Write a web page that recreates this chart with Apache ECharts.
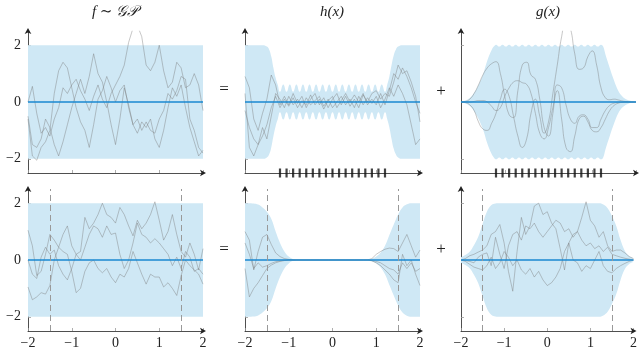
<!DOCTYPE html>
<html>
<head>
<meta charset="utf-8">
<script src="https://cdn.jsdelivr.net/npm/echarts@6/dist/echarts.min.js"></script>
<style>
html, body { margin: 0; padding: 0; background: #fff; }
#main { width: 640px; height: 352px; }
</style>
</head>
<body>
<div id="main"></div>
<script>
// x positions of the sample paths
var xs = [-2.0,-1.9,-1.8,-1.7,-1.6,-1.5,-1.4,-1.3,-1.2,-1.1,-1.0,-0.9,-0.8,-0.7,-0.6,-0.5,-0.4,-0.3,-0.2,-0.1,
          0.0,0.1,0.2,0.3,0.4,0.5,0.6,0.7,0.8,0.9,1.0,1.1,1.2,1.3,1.4,1.5,1.6,1.7,1.8,1.9,2.0];

// top row: f ~ GP, h(x), g(x)
var fTopA = [0,0.55,-0.4,-1.1,-0.9,-1.2,-0.6,-0.2,0.5,0.3,0.6,0.8,0.4,0.1,-0.3,0.2,0.6,0.1,-0.2,0.3,0.6,0.9,1.3,2.1,2.6,2.7,2.3,1.3,1.1,1.4,2.0,1.1,0.5,0.7,1.4,1.2,0.5,0.6,1.0,0.6,-0.3];
var fTopB = [-0.6,-1.9,-2.05,-1.6,-1.4,-1.0,0.3,1.1,1.4,1.2,0.5,-0.2,-0.7,-1.0,-1.6,-0.8,0.1,0.4,0.9,0.5,0.0,0.4,0.6,-0.2,-0.8,-0.6,-1.0,-0.7,-1.0,-1.1,-0.6,-0.3,0.3,0.1,0.4,0.9,0.8,-0.6,-1.0,-1.6,-1.8];
var fTopC = [-0.5,-1.5,-1.6,-1.3,-0.6,-0.9,-1.5,-1.9,-1.4,-0.8,-0.2,0.3,0.8,0.3,0.9,1.7,1.0,0.7,0.0,-0.8,-1.5,-0.6,0.5,-0.1,-0.8,-1.1,-0.7,-0.9,-0.6,-1.3,-1.6,-1.0,-0.2,0.5,0.2,0.6,-0.2,-0.9,-1.4,-1.9,-1.7];

var hTopA = [0.9,0.5,-0.6,-1.0,-0.4,0.1,0.95,0.6,-0.1,0.2,-0.1,0.3,-0.05,0.2,-0.2,0.1,0.3,-0.1,0.15,-0.2,0.1,0.3,-0.1,0.2,-0.15,0.1,-0.2,0.25,0.0,0.3,0.4,0.1,0.3,0.2,0.7,1.3,1.0,1.1,0.7,0.2,-0.7];
var hTopB = [0.3,-1.6,-1.9,-1.5,-0.9,-1.3,-0.5,0.3,0.1,-0.2,0.2,-0.1,0.1,-0.2,0.15,-0.1,0.05,0.2,-0.15,0.1,-0.2,0.0,0.2,-0.1,0.1,-0.2,0.2,-0.1,0.15,-0.05,0.2,-0.2,0.1,0.5,0.2,0.6,0.3,-0.1,-0.8,-1.5,-1.3];
var hTopC = [-0.3,-0.9,-1.3,-1.5,-1.2,-0.8,-0.2,0.2,-0.2,0.1,-0.15,0.15,-0.2,0.05,-0.1,0.25,-0.1,0.1,-0.25,0.05,0.2,-0.2,0.05,0.3,0.0,0.25,0.0,0.3,-0.1,0.1,-0.1,0.3,-0.1,0.4,1.0,0.8,1.2,0.9,0.5,0.0,-0.4];

var gTopA = [0,0.02,0.1,0.3,0.6,0.95,1.2,1.35,1.42,1.0,0.2,-0.45,-0.55,0.4,1.3,1.4,0.95,0.8,0.1,-0.9,-1.2,-0.4,0.6,0.5,-0.1,-0.6,-0.75,-0.5,-0.45,-0.6,-0.9,-0.9,-0.6,-0.3,-0.12,-0.04,-0.01,0,0,0,0];
var gTopB = [0,-0.02,-0.1,-0.3,-0.7,-0.95,-1.0,-0.75,-0.4,0.1,0.45,0.2,-0.5,-1.2,-1.6,-1.3,-0.4,0.1,-0.5,-1.1,-0.7,0.3,1.3,2.3,2.9,2.6,1.7,1.15,1.2,1.6,1.8,1.3,0.5,0.15,0.08,0.1,0.07,0.03,0.01,0,0];
var gTopC = [0,0,0,0.02,0.05,0.05,0,-0.15,-0.3,-0.2,0.2,0.5,0.7,0.75,0.68,0.62,0.3,-0.4,-1.1,-1.3,-0.9,-0.2,0.4,-0.6,-1.6,-1.75,-1.2,-0.6,-0.5,-0.7,-1.0,-1.05,-0.9,-0.6,-0.3,-0.12,-0.04,-0.01,0,0,0];

// bottom row
var fBotA = [1.05,0.5,-0.55,-0.4,0.2,0.9,0.7,0.45,0.9,1.2,0.5,0.2,0.3,1.5,1.1,1.3,1.6,2.0,1.6,1.5,1.3,1.85,1.6,1.2,0.85,1.4,1.1,1.3,1.6,2.05,1.4,0.7,1.0,1.6,0.9,0.3,0.1,0.6,0.2,-0.35,0.4];
var fBotB = [-0.95,-1.4,-1.3,-1.15,-1.2,-0.9,0.0,0.45,0.3,0.2,-0.4,-1.15,-1.0,-0.4,-0.1,0.0,-0.3,-0.45,-0.3,-0.6,-0.8,-0.5,-0.6,-0.3,0.3,-0.1,-0.5,-0.85,-0.5,-0.6,-0.6,-0.95,-0.8,-1.0,-1.25,-0.55,0.0,-0.2,-0.35,-0.5,-0.85];
var fBotC = [0.0,-0.5,-0.65,0.1,0.45,0.2,0.35,-0.2,-0.5,-0.7,-0.3,0.2,0.0,0.45,0.9,1.2,1.1,0.8,1.2,0.9,0.95,0.2,-0.3,0.0,0.6,1.3,0.9,0.8,0.6,0.75,0.6,0.4,0.2,-0.2,0.1,-0.3,0.3,0.1,-0.4,-0.3,-0.5];

var hBotA = [1.0,0.7,-0.35,0.3,0.8,0.9,0.55,0.25,0.12,0.05,0.02,0,0,0,0,0,0,0,0,0,0,0,0,0,0,0,0,0,0,0.05,0.2,0.3,0.38,0.42,0.4,0.3,0.6,0.9,0.5,0.1,0.35];
var hBotB = [-0.3,-1.3,-1.0,-0.8,-0.55,-0.3,-0.18,-0.1,-0.05,-0.02,0,0,0,0,0,0,0,0,0,0,0,0,0,0,0,0,0,0,0,-0.03,-0.1,-0.2,-0.35,-0.5,-0.7,-0.8,0.2,-0.2,0.0,-0.5,-0.9];
var hBotC = [0.6,0.2,-0.3,-0.1,-0.25,-0.2,-0.12,-0.06,-0.03,-0.01,0,0,0,0,0,0,0,0,0,0,0,0,0,0,0,0,0,0,0,-0.02,-0.05,-0.1,-0.2,-0.3,-0.35,-0.5,-0.1,-0.3,-0.1,-0.4,-0.3];

var gBotA = [0,0.05,0.15,0.2,0.28,0.35,0.5,0.9,1.0,1.25,0.6,-0.4,-1.1,0.3,1.5,0.9,1.2,1.9,2.0,1.6,1.7,1.3,1.1,0.4,-0.35,0.6,0.9,1.0,1.5,2.05,1.4,1.2,0.8,1.0,0.5,0.3,0.35,0.35,0.25,0.12,0.05];
var gBotB = [0,-0.05,-0.15,-0.25,-0.3,-0.35,-0.2,0.1,-0.3,-0.1,0.3,0.1,-0.2,0.0,-0.35,-0.5,-0.3,-0.6,-0.4,-0.7,-0.9,-0.8,-0.6,-0.3,0.3,0.6,0.0,-0.1,-0.4,-0.2,-0.3,0.0,0.3,-0.2,-0.4,-0.45,-0.3,-0.2,-0.12,-0.05,0.0];
var gBotC = [0,-0.02,-0.05,-0.1,0.1,0.2,0.25,-0.2,0.8,0.2,-0.3,0.5,0.9,1.0,0.7,1.2,1.1,1.3,1.0,0.8,1.0,1.2,1.4,1.3,1.0,1.1,0.8,1.0,0.7,0.5,0.6,0.4,0.5,0.3,0.45,0.2,0.15,0.1,0.06,0.03,0.0];

// confidence bands: x and half-width (band is symmetric round the zero mean)
var fBandX = [-2, 2];
var fBandU = [2, 2];
var hTopBandX = [-2.0,-1.6,-1.5,-1.45,-1.4,-1.35,-1.3,-1.25,
  -1.2,-1.125,-1.05,-0.975,-0.9,-0.825,-0.75,-0.675,-0.6,-0.525,-0.45,-0.375,-0.3,-0.225,-0.15,-0.075,
  0,0.075,0.15,0.225,0.3,0.375,0.45,0.525,0.6,0.675,0.75,0.825,0.9,0.975,1.05,1.125,1.2,
  1.25,1.3,1.35,1.4,1.45,1.5,1.6,2.0];
var hTopBandU = [2,2,1.95,1.85,1.6,1.2,0.85,0.6,
  0.36,0.62,0.36,0.62,0.36,0.62,0.36,0.62,0.36,0.62,0.36,0.62,0.36,0.62,0.36,0.62,
  0.36,0.62,0.36,0.62,0.36,0.62,0.36,0.62,0.36,0.62,0.36,0.62,0.36,0.62,0.36,0.62,0.36,
  0.6,0.9,1.3,1.65,1.85,1.95,2,2];
var gTopBandX = [-2.0,-1.9,-1.8,-1.7,-1.6,-1.5,-1.4,-1.3,-1.25,
  -1.2,-1.125,-1.05,-0.975,-0.9,-0.825,-0.75,-0.675,-0.6,-0.525,-0.45,-0.375,-0.3,-0.225,-0.15,-0.075,
  0,0.075,0.15,0.225,0.3,0.375,0.45,0.525,0.6,0.675,0.75,0.825,0.9,0.975,1.05,1.125,1.2,
  1.25,1.3,1.4,1.5,1.6,1.7,1.8,1.9,2.0];
var gTopBandU = [0,0.05,0.14,0.33,0.6,0.95,1.45,1.83,1.95,
  2.02,1.95,2.02,1.95,2.02,1.95,2.02,1.95,2.02,1.95,2.02,1.95,2.02,1.95,2.02,1.95,
  2.02,1.95,2.02,1.95,2.02,1.95,2.02,1.95,2.02,1.95,2.02,1.95,2.02,1.95,2.02,1.95,2.02,
  1.95,1.68,1.2,0.75,0.38,0.18,0.08,0.03,0];
var hBotBandX = [-2.0,-1.8,-1.7,-1.6,-1.5,-1.4,-1.3,-1.2,-1.1,-1.0,-0.9,-0.8,0.8,0.9,1.0,1.1,1.2,1.3,1.4,1.5,1.6,1.7,1.8,2.0];
var hBotBandU = [2,1.99,1.95,1.85,1.7,1.45,1.0,0.6,0.3,0.12,0.03,0,0,0.04,0.12,0.26,0.5,0.88,1.25,1.6,1.85,1.96,2,2];
var gBotBandX = [-2.0,-1.9,-1.8,-1.7,-1.6,-1.5,-1.4,-1.3,-1.2,-1.1,1.2,1.3,1.4,1.5,1.6,1.7,1.8,1.9,2.0];
var gBotBandU = [0.1,0.18,0.29,0.52,0.82,1.27,1.7,1.93,1.99,2,2,1.95,1.82,1.55,1.2,0.7,0.32,0.14,0.06];

var meanX = [-2, 2];
var meanY = [0, 0];
var rugX = [-1.2,-1.05,-0.9,-0.75,-0.6,-0.45,-0.3,-0.15,0,0.15,0.3,0.45,0.6,0.75,0.9,1.05,1.2];
var dashX = [-1.5, 1.5];
var yTicks = [-2, 0, 2];

var panels = [
  { bx: fBandX, bu: fBandU, paths: [fTopA, fTopB, fTopC], smooth: false, bandSmooth: false },
  { bx: hTopBandX, bu: hTopBandU, paths: [hTopA, hTopB, hTopC], smooth: false, bandSmooth: 0.5, rug: true },
  { bx: gTopBandX, bu: gTopBandU, paths: [gTopA, gTopB, gTopC], smooth: 0.5, bandSmooth: 0.4, rug: true },
  { bx: fBandX, bu: fBandU, paths: [fBotA, fBotB, fBotC], smooth: false, bandSmooth: false, dash: true },
  { bx: hBotBandX, bu: hBotBandU, paths: [hBotA, hBotB, hBotC], smooth: false, bandSmooth: 0.4, dash: true },
  { bx: gBotBandX, bu: gBotBandU, paths: [gBotA, gBotB, gBotC], smooth: false, bandSmooth: 0.4, dash: true }
];

var lefts = [28, 245, 461];
var tops = [31, 189];
var serif = '"Liberation Serif", "DejaVu Serif", serif';
var bandColor = '#cfe8f5';

function pairs(xv, yv) {
  return xv.map(function (x, i) { return [x, yv[i]]; });
}
function minus(v) {
  return v < 0 ? '\u2212' + (-v) : '' + v;
}

var grid = [], xAxis = [], yAxis = [], series = [];

panels.forEach(function (p, i) {
  var row = i < 3 ? 0 : 1, col = i % 3;
  grid.push({ left: lefts[col], top: tops[row], width: 175, height: 142 });
  var axisLine = {
    show: true, onZero: false, symbol: ['none', 'arrow'], symbolSize: [5, 6], symbolOffset: [0, 3],
    lineStyle: { color: '#222', width: 0.8 }
  };
  xAxis.push({
    gridIndex: i, type: 'value', min: -2, max: 2, interval: 1,
    axisLine: axisLine,
    axisTick: { show: true, inside: true, length: 3, lineStyle: { color: '#999', width: 0.8 } },
    axisLabel: { show: row === 1, formatter: minus, fontFamily: serif, fontSize: 14, color: '#222', margin: 5 },
    splitLine: { show: false }
  });
  yAxis.push({
    gridIndex: i, type: 'value', min: -2.5, max: 2.5,
    axisLine: axisLine,
    axisTick: { show: true, inside: true, length: 3, customValues: yTicks, lineStyle: { color: '#999', width: 0.8 } },
    axisLabel: { show: col === 0, customValues: yTicks, formatter: minus, fontFamily: serif, fontSize: 14, color: '#222', margin: 7 },
    splitLine: { show: false }
  });

  // band, drawn as two areas filled towards zero
  [1, -1].forEach(function (s) {
    series.push({
      type: 'line', xAxisIndex: i, yAxisIndex: i, silent: true, z: 1,
      symbol: 'none', smooth: p.bandSmooth,
      data: pairs(p.bx, p.bu.map(function (v) { return s * v; })),
      lineStyle: { width: 0, opacity: 0 },
      areaStyle: { color: bandColor, opacity: 1 }
    });
  });

  p.paths.forEach(function (path) {
    series.push({
      type: 'line', xAxisIndex: i, yAxisIndex: i, silent: true, z: 2,
      symbol: 'none', smooth: p.smooth,
      data: pairs(xs, path),
      lineStyle: { color: '#777', width: 0.75, opacity: 0.55 }
    });
  });

  var mean = {
    type: 'line', xAxisIndex: i, yAxisIndex: i, silent: true, z: 3,
    symbol: 'none', data: pairs(meanX, meanY),
    lineStyle: { color: '#1a88d0', width: 1.6 }
  };
  if (p.dash) {
    mean.markLine = {
      silent: true, symbol: 'none', label: { show: false },
      lineStyle: { color: '#999', width: 1, type: [6, 4] },
      data: dashX.map(function (x) { return { xAxis: x }; })
    };
  }
  series.push(mean);

  if (p.rug) {
    series.push({
      type: 'scatter', xAxisIndex: i, yAxisIndex: i, silent: true, z: 5, clip: false,
      symbol: 'rect', symbolSize: [2.2, 9],
      itemStyle: { color: '#111' },
      data: rugX.map(function (x) { return [x, -2.5]; })
    });
  }
});

var textStyle = function (t, font) {
  return { text: t, font: font, fill: '#222', align: 'center', verticalAlign: 'middle' };
};

var myChart = echarts.init(document.getElementById('main'));
myChart.setOption({
  animation: false,
  grid: grid,
  xAxis: xAxis,
  yAxis: yAxis,
  series: series,
  graphic: [
    { type: 'text', x: 115, y: 12, style: textStyle('f \u223C \uD835\uDCA2\uD835\uDCAB', 'italic 15px ' + serif) },
    { type: 'text', x: 332, y: 12, style: textStyle('h(x)', 'italic 15px ' + serif) },
    { type: 'text', x: 548, y: 12, style: textStyle('g(x)', 'italic 15px ' + serif) },
    { type: 'text', x: 224, y: 90, style: textStyle('=', '17px ' + serif) },
    { type: 'text', x: 224, y: 250, style: textStyle('=', '17px ' + serif) },
    { type: 'text', x: 441, y: 92, style: textStyle('+', '17px ' + serif) },
    { type: 'text', x: 441, y: 250, style: textStyle('+', '17px ' + serif) }
  ]
});
</script>
</body>
</html>
